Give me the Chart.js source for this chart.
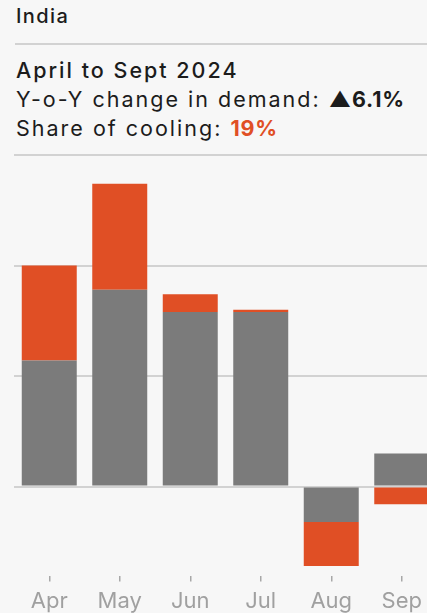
<!DOCTYPE html>
<html>
<head>
  <title>India cooling demand</title>
  <script src="https://cdn.jsdelivr.net/npm/chart.js"></script>
  <style>
    body { margin: 0; background: #f7f7f7; font-family: Inter, "Noto Sans", sans-serif; color: #1c1c1c; overflow: hidden; width: 427px; height: 613px; position: relative; }
    .country { position: absolute; left: 16px; top: 4px; font-size: 20px; font-weight: 500; letter-spacing: 1.4px; }
    .rule { position: absolute; left: 15px; right: 0; height: 2px; background: #d2d2d2; }
    .summary { position: absolute; left: 16px; top: 56px; font-size: 21.5px; line-height: 29px; letter-spacing: 2px; white-space: nowrap; }
    .summary .period { font-weight: 500; }
    .summary b { font-weight: 700; letter-spacing: 0.8px; }
    .summary .hot { color: #e04f25; }
    #chartBox { position: absolute; left: 0; top: 145px; width: 440px; height: 477px; }
  </style>
</head>
<body>
  <div class="country">India</div>
  <div class="rule" style="top:43px"></div>
  <div class="summary">
    <div class="period">April to Sept 2024</div>
    <div>Y-o-Y change in demand: <b>&#9650;6.1%</b></div>
    <div>Share of cooling: <b class="hot">19%</b></div>
  </div>
  <div id="chartBox"><canvas id="demandChart"></canvas></div>

  <script>
    // monthly y-o-y change, split into non-cooling and cooling parts
    const months = ['Apr', 'May', 'Jun', 'Jul', 'Aug', 'Sep'];
    const otherDemand = [5.7, 8.9, 7.9, 7.9, -1.6, 1.5];
    const coolingDemand = [4.3, 4.8, 0.8, 0.1, -2.0, -0.8];
    const gridValues = [0, 5, 10, 15];

    const ctx = document.getElementById('demandChart').getContext('2d');

    new Chart(ctx, {
      type: 'bar',
      data: {
        labels: months,
        datasets: [
          { label: 'Other', data: otherDemand, backgroundColor: '#7b7b7b' },
          { label: 'Cooling', data: coolingDemand, backgroundColor: '#e04f25' }
        ]
      },
      options: {
        responsive: true,
        maintainAspectRatio: false,
        animation: false,
        categoryPercentage: 1,
        barPercentage: 0.78,
        layout: { padding: { left: 14, right: 3, top: 10, bottom: 0 } },
        plugins: { legend: { display: false }, tooltip: { enabled: false } },
        scales: {
          x: {
            stacked: true,
            border: { display: false },
            grid: { offset: false, drawOnChartArea: false, drawTicks: true, tickLength: 6, color: '#a8a8a8', lineWidth: 1.5 },
            ticks: { color: '#a0a0a0', padding: 7, font: { family: 'Inter', size: 22 } }
          },
          y: {
            stacked: true,
            min: -4.03,
            max: 15,
            border: { display: false },
            grid: { color: '#d2d2d2', lineWidth: 2, drawTicks: false },
            ticks: { display: false },
            afterBuildTicks: scale => { scale.ticks = gridValues.map(v => ({ value: v })); },
            afterFit: scale => { scale.width = 0; }
          }
        }
      }
    });
  </script>
</body>
</html>
